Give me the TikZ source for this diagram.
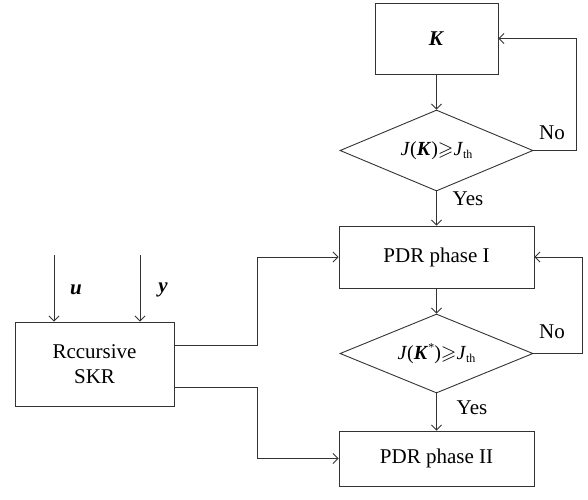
\documentclass[tikz,border=0pt]{standalone}
\usepackage{amssymb}
\usepackage{fontspec}
\setmainfont{Liberation Serif}
\usetikzlibrary{arrows.meta,shapes.geometric}
\begin{document}
\begin{tikzpicture}[x=1pt,y=-1pt,
  line/.style={draw=black!80,line width=0.9pt},
  arr/.style={line,-{Straight Barb[length=5pt,width=10pt]}},
  box/.style={line,rectangle,inner sep=0pt,font=\fontsize{21}{24}\selectfont},
  dia/.style={line,diamond,inner sep=0pt,font=\fontsize{20}{24}\selectfont},
  lbl/.style={font=\fontsize{21}{24}\selectfont,inner sep=0pt}]
\useasboundingbox (0,0) rectangle (588,499);
\node[box,minimum width=123pt,minimum height=71pt] (K) at (436.5,38.5) {\textbf{\textit{K}}};
\node[dia,minimum width=193pt,minimum height=81pt,shape aspect=2.38] (D1) at (436.5,150.5) {\textit{J}(\textbf{\textit{K}})$\geqslant$\textit{J}\raisebox{-0.3ex}{\fontsize{12}{14}\selectfont th}};
\node[box,minimum width=195pt,minimum height=62pt] (P1) at (436.5,257) {PDR phase I};
\node[dia,minimum width=193pt,minimum height=79pt,shape aspect=2.44] (D2) at (436.5,353.5) {\textit{J}(\textbf{\textit{K}}\raisebox{0.9ex}{\fontsize{12}{14}\selectfont *})$\geqslant$\textit{J}\raisebox{-0.3ex}{\fontsize{12}{14}\selectfont th}};
\node[box,minimum width=195pt,minimum height=55pt] (P2) at (436.5,458.5) {PDR phase II};
\node[box,minimum width=159pt,minimum height=84pt,align=center] (S) at (94.5,364) {Rccursive\\[1pt]SKR};

\coordinate (u0) at (54,255);
\coordinate (y0) at (140,255);
\coordinate (j) at (257,0);
\coordinate (r1) at (576,0);
\coordinate (r2) at (582,0);

\draw[arr] (K) -- (D1);
\draw[arr] (D1) -- (P1);
\draw[arr] (P1) -- (D2);
\draw[arr] (D2) -- (P2);
\draw[arr] (D1.east) -- (D1.east -| r1) |- (K.east);
\draw[arr] (D2.east) -- (D2.east -| r2) |- (P1.east);
\draw[arr] (u0) -- (u0 |- S.north);
\draw[arr] (y0) -- (y0 |- S.north);
\draw[arr] ([yshift=19pt]S.east) -- ([yshift=19pt]S.east -| j) |- (P1.west);
\draw[arr] ([yshift=-23pt]S.east) -- ([yshift=-23pt]S.east -| j) |- (P2.west);

\node[lbl] (no1) at (552,133) {No};
\node[lbl] (no2) at (552,332) {No};
\node[lbl] (yes1) at (468,199) {Yes};
\node[lbl] (yes2) at (472,408) {Yes};
\node[lbl] (lu) at (76,290) {\textbf{\textit{u}}};
\node[lbl] (ly) at (163,290) {\textbf{\textit{y}}};
\end{tikzpicture}
\end{document}
